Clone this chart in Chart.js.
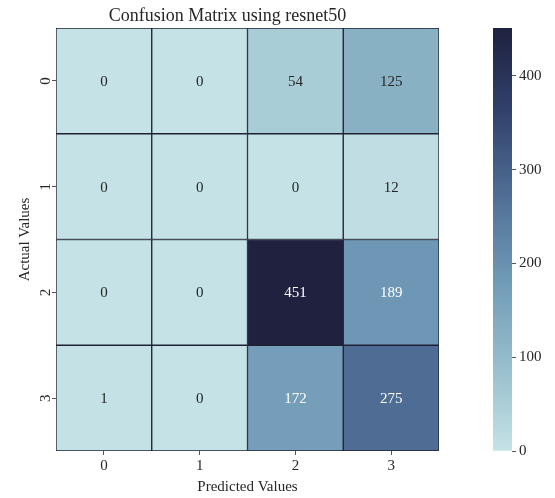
<!DOCTYPE html>
<html>
<head>
<meta charset="utf-8">
<script src="https://cdn.jsdelivr.net/npm/chart.js@4/dist/chart.umd.min.js"></script>
<style>
  body { margin: 0; background: #fff; }
  #wrap { position: relative; width: 555px; height: 498px; }
  #heat { position: absolute; left: 0; top: 0; }
  #bar { position: absolute; left: 470px; top: 0; }
</style>
</head>
<body>
<div id="wrap">
  <canvas id="heat" width="495" height="498"></canvas>
  <canvas id="bar" width="85" height="498"></canvas>
</div>
<script>
// confusion matrix values (rows = actual, cols = predicted)
var actualLabels = ["0", "1", "2", "3"];
var predictedLabels = ["0", "1", "2", "3"];
var row0 = [0, 0, 54, 125];
var row1 = [0, 0, 0, 12];
var row2 = [0, 0, 451, 189];
var row3 = [1, 0, 172, 275];
var colorbarTicks = [0, 100, 200, 300, 400];

var rows = [row0, row1, row2, row3];
var maxValue = Math.max.apply(null, rows.flat());

var serif = "'Liberation Serif', 'DejaVu Serif', serif";
var textColor = "#262626";

// light teal -> dark navy, like the seaborn palette
var stops = [
  [0.00, [197, 226, 230]],
  [0.12, [169, 205, 214]],
  [0.28, [136, 176, 196]],
  [0.40, [112, 155, 183]],
  [0.61, [79, 109, 148]],
  [0.80, [50, 66, 108]],
  [1.00, [31, 33, 63]]
];

function colorAt(t) {
  for (var i = 1; i < stops.length; i++) {
    if (t <= stops[i][0]) {
      var a = stops[i - 1], b = stops[i];
      var f = (t - a[0]) / (b[0] - a[0]);
      var c = a[1].map(function (v, k) { return Math.round(v + (b[1][k] - v) * f); });
      return "rgb(" + c.join(",") + ")";
    }
  }
  return "rgb(" + stops[stops.length - 1][1].join(",") + ")";
}

// one floating-bar dataset per actual row, bottom row first
var datasets = rows.map(function (vals, r) {
  var pos = rows.length - 1 - r;
  return {
    label: actualLabels[r],
    values: vals,
    data: predictedLabels.map(function () { return [pos, pos + 1]; }),
    backgroundColor: vals.map(function (v) { return colorAt(v / maxValue); }),
    borderColor: "#1f2235",
    borderWidth: 1,
    borderSkipped: false,
    barPercentage: 1,
    categoryPercentage: 1
  };
});

var cellLabels = {
  id: "cellLabels",
  afterDatasetsDraw: function (chart) {
    var ctx = chart.ctx;
    ctx.save();
    ctx.font = "15px " + serif;
    ctx.textAlign = "center";
    ctx.textBaseline = "middle";
    chart.data.datasets.forEach(function (ds, i) {
      chart.getDatasetMeta(i).data.forEach(function (bar, j) {
        var v = ds.values[j];
        ctx.fillStyle = v / maxValue > 0.33 ? "#ffffff" : textColor;
        ctx.fillText(String(v), bar.x, (bar.y + bar.base) / 2 + 1);
      });
    });
    ctx.restore();
  }
};

new Chart(document.getElementById("heat"), {
  type: "bar",
  data: { labels: predictedLabels, datasets: datasets },
  plugins: [cellLabels],
  options: {
    responsive: false,
    animation: false,
    layout: { padding: { left: 16, right: 56, top: 0, bottom: 0 } },
    plugins: {
      legend: { display: false },
      tooltip: { enabled: false },
      title: {
        display: true,
        text: "Confusion Matrix using resnet50",
        color: textColor,
        font: { family: serif, size: 18, weight: "normal" },
        padding: { top: 5, bottom: 1.4 }
      }
    },
    scales: {
      x: {
        stacked: true,
        offset: true,
        grid: { offset: false, drawOnChartArea: false, drawTicks: true, tickLength: 4, color: "#555" },
        border: { display: false },
        ticks: { color: textColor, font: { family: serif, size: 15 }, padding: 2 },
        title: {
          display: true, text: "Predicted Values", color: textColor,
          font: { family: serif, size: 15 }, padding: { top: 0, bottom: 2 }
        },
        afterFit: function (s) { s.height = 47; }
      },
      y: {
        stacked: false,
        min: 0,
        max: 4,
        afterBuildTicks: function (s) {
          s.ticks = [0.5, 1.5, 2.5, 3.5].map(function (v) { return { value: v }; });
        },
        grid: { drawOnChartArea: false, drawTicks: true, tickLength: 4, color: "#555" },
        border: { display: false },
        ticks: {
          color: textColor, font: { family: serif, size: 15 }, padding: 2.5,
          minRotation: 90, maxRotation: 90, crossAlign: "center",
          callback: function (v) { return actualLabels[rows.length - 1 - Math.floor(v)]; }
        },
        title: {
          display: true, text: "Actual Values", color: textColor,
          font: { family: serif, size: 15 }, padding: 0
        },
        afterFit: function (s) { s.width = 40; }
      }
    }
  }
});

// colour bar
new Chart(document.getElementById("bar"), {
  type: "bar",
  data: {
    labels: [""],
    datasets: [{
      data: [[0, maxValue]],
      borderWidth: 0,
      barPercentage: 1,
      categoryPercentage: 1,
      backgroundColor: function (c) {
        var area = c.chart.chartArea;
        if (!area) return null;
        var g = c.chart.ctx.createLinearGradient(0, area.bottom, 0, area.top);
        stops.forEach(function (s) { g.addColorStop(s[0], "rgb(" + s[1].join(",") + ")"); });
        return g;
      }
    }]
  },
  options: {
    responsive: false,
    animation: false,
    layout: { padding: { left: 23, top: 28, bottom: 47, right: 0 } },
    plugins: { legend: { display: false }, tooltip: { enabled: false } },
    scales: {
      x: { display: false },
      y: {
        position: "right",
        min: 0,
        max: maxValue,
        afterBuildTicks: function (s) {
          s.ticks = colorbarTicks.map(function (v) { return { value: v }; });
        },
        grid: { drawOnChartArea: false, drawTicks: true, tickLength: 4, color: "#555" },
        border: { display: false },
        ticks: { color: textColor, font: { family: serif, size: 15 }, padding: 3 },
        afterFit: function (s) { s.width = 43; }
      }
    }
  }
});
</script>
</body>
</html>
